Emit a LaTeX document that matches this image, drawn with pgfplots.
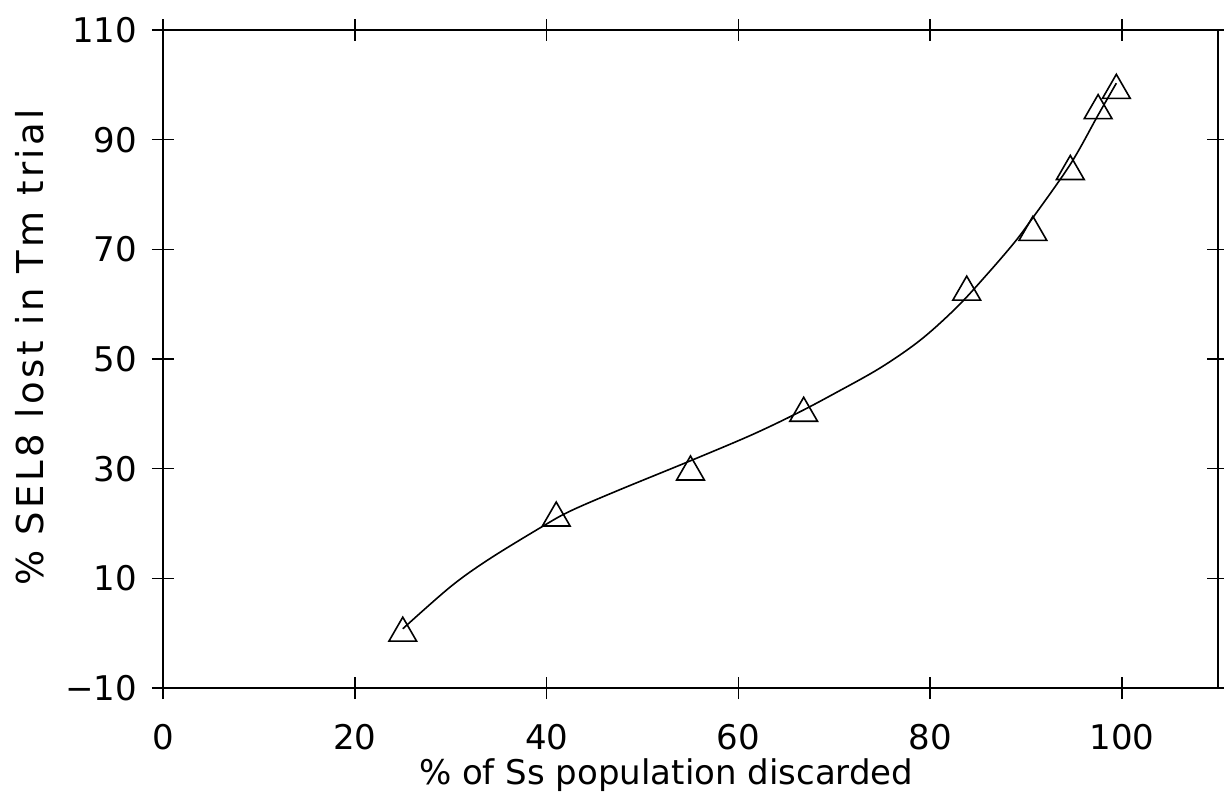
\documentclass[border=0pt]{standalone}
\usepackage{fontspec}
\setmainfont{DejaVu Sans}
\usepackage{pgfplots}
\pgfplotsset{compat=1.18}
\begin{document}
\begin{tikzpicture}
\begin{axis}[
  scale only axis,
  width=527.5pt, height=329pt,
  xmin=0, xmax=110, ymin=-10, ymax=110,
  xtick={0,20,40,60,80,100},
  ytick={-10,10,30,50,70,90,110},
  yticklabels={−10,10,30,50,70,90,110},
  tick align=center,
  major tick length=11pt,
  tick style={black, line width=0.8pt},
  axis line style={line width=0.9pt},
  every tick label/.append style={font=\fontsize{17}{20}\selectfont},
  /pgf/number format/assume math mode=true,
  xticklabel style={yshift=-9pt},
  yticklabel style={xshift=-4pt},
  xlabel={\% of Ss population discarded},
  ylabel={\% SEL8 lost in Tm trial},
  xlabel style={font=\fontsize{17}{20}\selectfont, at={(axis description cs:0.477,0)}, anchor=north, yshift=-32pt},
  ylabel style={font=\fontsize{18.5}{22}\selectfont\addfontfeatures{LetterSpace=9.5}, at={(axis description cs:-0.126,0.518)}, anchor=center, rotate=0},
  clip=false,
]
\addplot[black, line width=0.8pt, smooth, tension=0.55] coordinates {
(25,0.8) (30,8.5) (34,13.5) (39.6,19.5) (42.5,22.3) (47.4,26) (54.8,31.3)
(61.3,36.1) (66.1,40.1) (70,43.7) (74.8,48.4) (79,53.5) (82.8,59.5) (86,65.6)
(88.7,71.1) (90.5,75.3) (94.6,85.5) (97.5,94.5) (99.4,100.3)
};
\addplot[only marks, mark=triangle, mark size=8pt, mark options={black, line width=0.8pt, fill=none}] coordinates {
(25,0) (41,21) (55,29.4) (66.8,40.1) (83.8,62.2) (90.7,73.1) (94.6,84.2) (97.5,95.3) (99.4,99)
};
\end{axis}
\pgfresetboundingbox
\path ([xshift=-81.5pt,yshift=-53pt]current axis.south west) rectangle ([xshift=3pt,yshift=15pt]current axis.north east);
\end{tikzpicture}
\end{document}
